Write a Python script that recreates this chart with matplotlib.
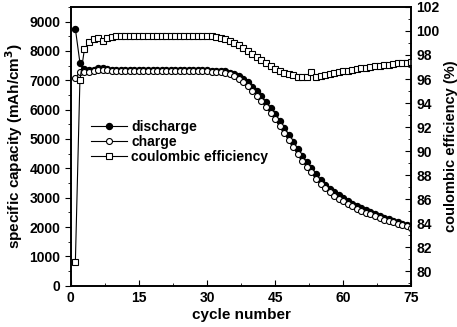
import matplotlib.pyplot as plt
from matplotlib.ticker import MultipleLocator

plt.rcParams['font.family'] = ['Liberation Sans', 'DejaVu Sans']
plt.rcParams['font.weight'] = 'bold'

cycles = list(range(1, 76))

discharge = [8750, 7600, 7380, 7360, 7350, 7410, 7420, 7380, 7360, 7350,
             7340, 7340, 7350, 7340, 7340, 7350, 7340, 7340, 7350, 7340,
             7340, 7350, 7340, 7340, 7340, 7350, 7340, 7340, 7340, 7340,
             7330, 7320, 7310, 7300, 7260, 7210, 7140, 7050, 6930, 6780,
             6620, 6450, 6260, 6060, 5850, 5620, 5390, 5150, 4900, 4660,
             4430, 4210, 4000, 3800, 3610, 3450, 3310, 3190, 3080, 2980,
             2890, 2800, 2720, 2640, 2570, 2500, 2440, 2380, 2320, 2270,
             2220, 2170, 2120, 2080, 2040]

charge = [7070, 7290, 7270, 7290, 7300, 7360, 7360, 7340, 7320, 7310,
          7300, 7310, 7310, 7300, 7300, 7310, 7300, 7300, 7310, 7300,
          7300, 7310, 7300, 7300, 7300, 7310, 7300, 7300, 7300, 7300,
          7290, 7280, 7270, 7250, 7200, 7140, 7050, 6950, 6810, 6650,
          6480, 6290, 6090, 5880, 5670, 5430, 5200, 4960, 4720, 4480,
          4260, 4050, 3860, 3650, 3470, 3320, 3190, 3070, 2970, 2880,
          2790, 2710, 2630, 2560, 2490, 2430, 2370, 2310, 2250, 2200,
          2160, 2110, 2060, 2020, 1980]

efficiency = [80.8, 95.9, 98.5, 99.05, 99.3, 99.4, 99.2, 99.45, 99.5, 99.55,
              99.55, 99.6, 99.55, 99.55, 99.6, 99.55, 99.55, 99.6, 99.55, 99.55,
              99.6, 99.55, 99.55, 99.55, 99.6, 99.55, 99.55, 99.55, 99.55, 99.55,
              99.55, 99.5, 99.45, 99.35, 99.2, 99.0, 98.8, 98.55, 98.3, 98.05,
              97.8, 97.55, 97.3, 97.05, 96.85, 96.65, 96.5, 96.4, 96.3, 96.2,
              96.15, 96.15, 96.6, 96.15, 96.25, 96.35, 96.45, 96.5, 96.6, 96.65,
              96.7, 96.75, 96.85, 96.9, 96.95, 97.0, 97.05, 97.1, 97.15, 97.2,
              97.25, 97.3, 97.3, 97.35, 97.4]

fig = plt.figure(figsize=(4.57, 3.27), dpi=100)
ax = fig.add_axes([0.155, 0.126, 0.745, 0.853])
ax2 = ax.twinx()

l1, = ax.plot(cycles, discharge, '-o', color='black', lw=0.8, ms=4.3,
              mfc='black', mec='black', label='discharge')
l2, = ax.plot(cycles, charge, '-o', color='black', lw=0.8, ms=4.3,
              mfc='white', mec='black', mew=0.8, label='charge')
l3, = ax2.plot(cycles, efficiency, '-s', color='black', lw=0.8, ms=4.3,
               mfc='white', mec='black', mew=0.8, label='coulombic efficiency')

ax.set_xlim(0, 75)
ax.set_ylim(0, 9500)
ax2.set_ylim(78.8, 102)

ax.xaxis.set_major_locator(MultipleLocator(15))
ax.xaxis.set_minor_locator(MultipleLocator(7.5))
ax.yaxis.set_major_locator(MultipleLocator(1000))
ax.yaxis.set_minor_locator(MultipleLocator(500))
ax2.yaxis.set_major_locator(MultipleLocator(2))
ax2.yaxis.set_minor_locator(MultipleLocator(1))

ax.tick_params(axis='x', which='both', direction='in', labelsize=10, pad=4)
ax.tick_params(axis='x', which='major', length=4)
ax.tick_params(axis='x', which='minor', length=2.5)
ax.tick_params(axis='y', which='major', direction='out', length=4, labelsize=10)
ax.tick_params(axis='y', which='minor', direction='out', length=2.5)
ax2.tick_params(axis='y', which='major', direction='in', length=4, labelsize=10)
ax2.tick_params(axis='y', which='minor', direction='in', length=2.5)

for a in (ax, ax2):
    for s in a.spines.values():
        s.set_linewidth(1.2)

ax.set_xlabel('cycle number', fontsize=11, fontweight='bold', labelpad=2)
ax.set_ylabel('specific capacity (mAh/cm$^\\mathbf{3}$)', fontsize=11,
              fontweight='bold', labelpad=3)
ax2.set_ylabel('coulombic efficiency (%)', fontsize=10.5, fontweight='bold',
               labelpad=3)

ax.legend(handles=[l1, l2, l3], loc='upper left', bbox_to_anchor=(0.03, 0.63),
          frameon=False, fontsize=10, handlelength=2.6, handletextpad=0.3,
          labelspacing=0.08, borderpad=0.2)

fig.savefig('out.png', dpi=100)
